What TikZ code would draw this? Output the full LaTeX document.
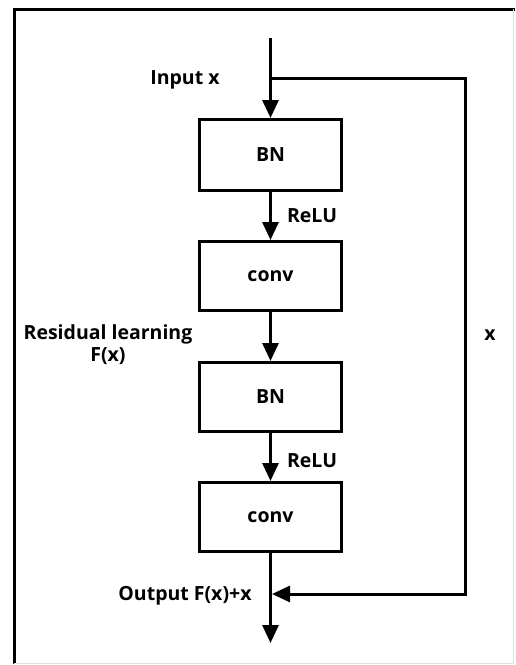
\documentclass[tikz,border=0pt]{standalone}
\usepackage{fontspec}
\setmainfont{Open Sans}
\usetikzlibrary{arrows.meta}
\begin{document}
\begin{tikzpicture}[x=1pt,y=-1pt,
  line width=3pt,
  flow/.style={-{Triangle[length=18pt,width=16pt]}},
  block/.style={draw, minimum width=142pt, inner sep=0pt, font=\bfseries\fontsize{19.5}{22}\selectfont},
  lbl/.style={font=\bfseries\fontsize{19.5}{22}\selectfont, inner sep=0pt}]
  \useasboundingbox (0,0) rectangle (515,665);
  % outer frame
  \draw[line width=3pt] (14,664) -- (14,9) -- (515,9);
  \draw[line width=1pt, black!12] (513,9) -- (513,663) -- (14,663);

  % blocks of the residual branch
  \node[block, minimum height=71pt] (bn1)   at (270.5,155) {BN};
  \node[block, minimum height=69pt] (conv1) at (270.5,276) {conv};
  \node[block, minimum height=69pt] (bn2)   at (270.5,397) {BN};
  \node[block, minimum height=69pt] (conv2) at (270.5,517) {conv};

  \coordinate (in)     at (270.5,38);
  \coordinate (split)  at (270.5,78);
  \coordinate (rtop)   at (465,78);
  \coordinate (sum)    at (272,594);
  \coordinate (out)    at (270.5,643);

  % main path
  \draw[flow] (in) -- (bn1.north);
  \draw[flow] (bn1.south) -- (conv1.north);
  \draw[flow] (conv1.south) -- (bn2.north);
  \draw[flow] (bn2.south) -- (conv2.north);
  \draw[flow] (conv2.south) -- (out);

  % identity shortcut
  \draw[flow] (split) -- (rtop) |- (sum);

  % labels
  \node[lbl] (linput) at (185,80) {Input x};
  \node[lbl] (lrelu1) at (312,216) {ReLU};
  \node[lbl] (lrelu2) at (312,461) {ReLU};
  \node[lbl, align=center] (lres) at (108,345) {Residual learning\\F(x)};
  \node[lbl] (lx) at (490,335) {x};
  \node[lbl] (lout) at (185,596) {Output F(x)+x};
\end{tikzpicture}
\end{document}
